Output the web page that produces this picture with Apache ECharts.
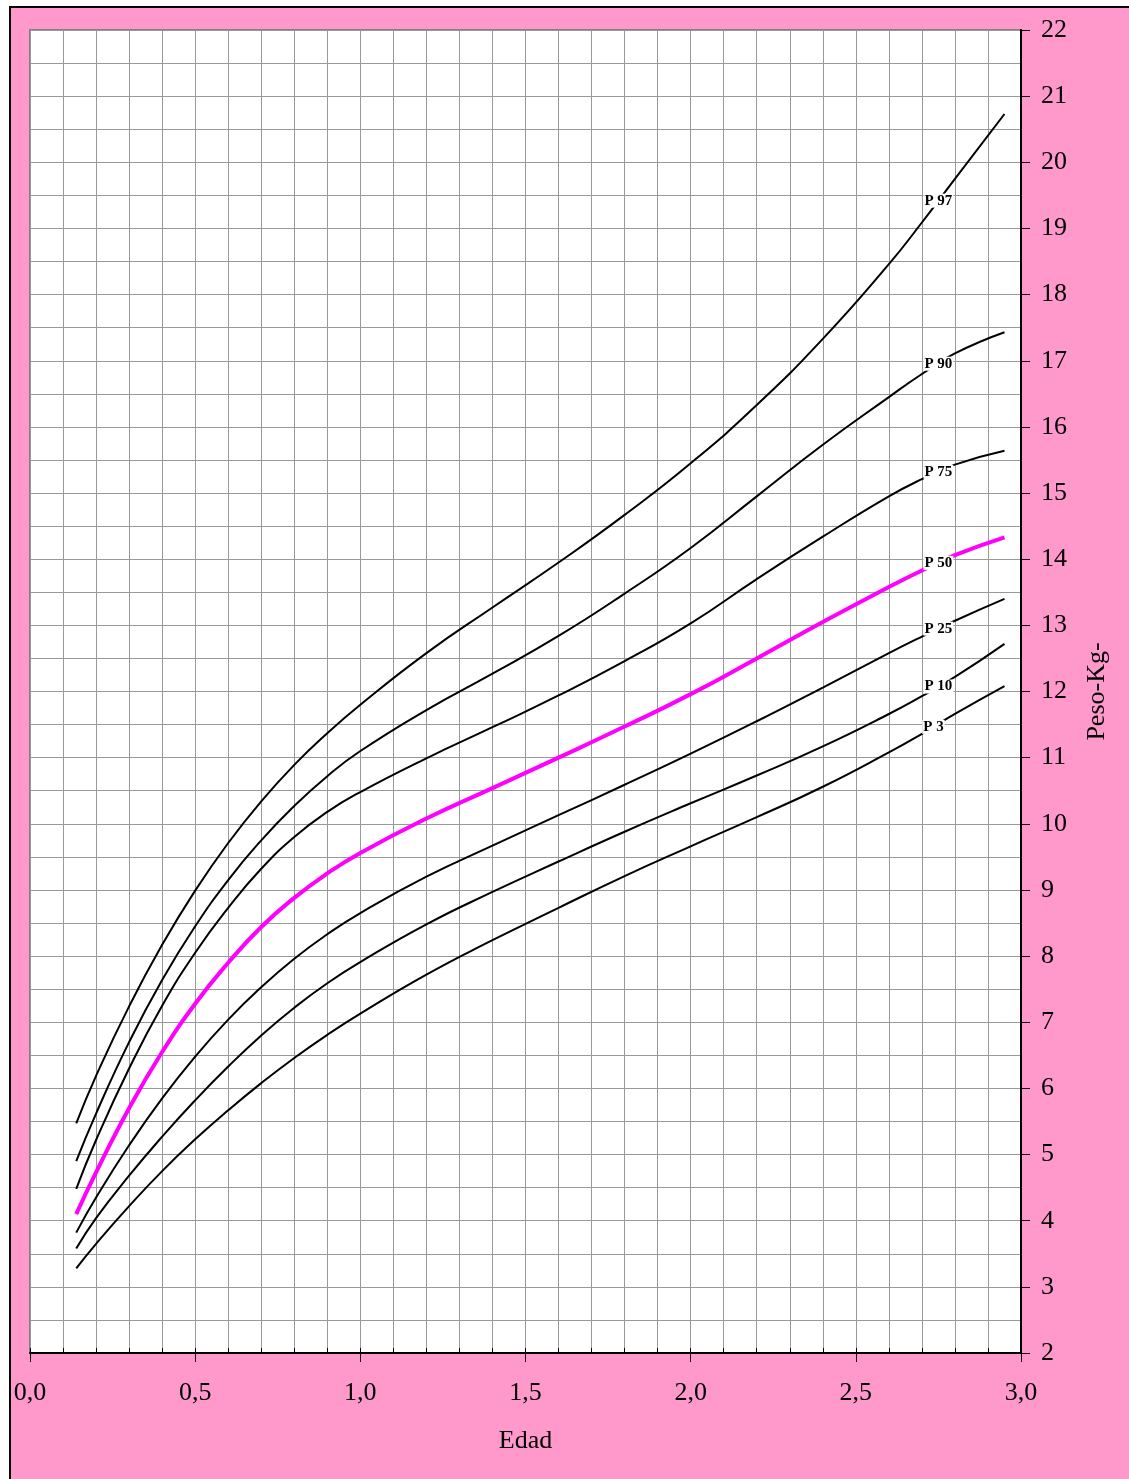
<!DOCTYPE html>
<html><head><meta charset="utf-8">
<script src="https://cdn.jsdelivr.net/npm/echarts@6/dist/echarts.min.js"></script>
<style>
html,body{margin:0;padding:0;background:#fff;overflow:hidden;width:1129px;height:1479px;}
#frame{position:absolute;left:9px;top:6px;width:1200px;height:1600px;background:#FF99CC;border-left:2px solid #000;border-top:2px solid #000;}
#chart{position:absolute;left:0;top:0;width:1129px;height:1479px;}
</style></head><body>
<div id="frame"></div><div id="chart"></div>
<script>
const ages = [0.14, 0.2, 0.3, 0.4, 0.5, 0.6, 0.7, 0.8, 0.9, 1.0, 1.2, 1.4, 1.6, 1.8, 2.0, 2.2, 2.4, 2.6, 2.7, 2.8, 2.95];
const p97 = [5.47, 6.19, 7.24, 8.17, 8.99, 9.71, 10.34, 10.89, 11.37, 11.8, 12.58, 13.27, 13.95, 14.67, 15.45, 16.33, 17.33, 18.46, 19.09, 19.75, 20.73];
const p90 = [4.9, 5.62, 6.7, 7.64, 8.45, 9.15, 9.75, 10.27, 10.72, 11.1, 11.72, 12.27, 12.84, 13.48, 14.17, 14.95, 15.73, 16.45, 16.8, 17.11, 17.43];
const p75 = [4.48, 5.22, 6.3, 7.25, 8.05, 8.73, 9.32, 9.8, 10.18, 10.48, 10.99, 11.46, 11.94, 12.46, 13.03, 13.7, 14.34, 14.95, 15.21, 15.43, 15.64];
const p50 = [4.1, 4.73, 5.7, 6.55, 7.28, 7.9, 8.44, 8.88, 9.25, 9.56, 10.08, 10.54, 11.0, 11.47, 11.96, 12.5, 13.05, 13.58, 13.83, 14.06, 14.33];
const p25 = [3.82, 4.35, 5.14, 5.85, 6.48, 7.04, 7.53, 7.96, 8.33, 8.65, 9.2, 9.67, 10.13, 10.59, 11.06, 11.55, 12.06, 12.58, 12.83, 13.07, 13.4];
const p10 = [3.58, 4.04, 4.68, 5.27, 5.82, 6.33, 6.8, 7.22, 7.59, 7.91, 8.48, 8.97, 9.43, 9.88, 10.31, 10.73, 11.17, 11.66, 11.93, 12.22, 12.72];
const p3  = [3.28, 3.65, 4.22, 4.75, 5.23, 5.67, 6.08, 6.46, 6.81, 7.13, 7.72, 8.24, 8.73, 9.21, 9.66, 10.1, 10.56, 11.08, 11.36, 11.66, 12.08];
const seriesNames = ['P 97', 'P 90', 'P 75', 'P 50', 'P 25', 'P 10', 'P 3'];
const seriesValues = [p97, p90, p75, p50, p25, p10, p3];
const labelAges = [2.75, 2.75, 2.75, 2.75, 2.75, 2.75, 2.735];

const FONT = "'Liberation Serif', 'Times New Roman', serif";

function interp(xs, ys, x) {
  for (let i = 0; i < xs.length - 1; i++) {
    if (x >= xs[i] && x <= xs[i + 1]) {
      const t = (x - xs[i]) / (xs[i + 1] - xs[i]);
      return ys[i] + t * (ys[i + 1] - ys[i]);
    }
  }
  return ys[ys.length - 1];
}

const series = seriesNames.map((name, k) => {
  const isMedian = name === 'P 50';
  return {
    name: name,
    type: 'line',
    xAxisIndex: 0,
    yAxisIndex: 0,
    smooth: 0.5,
    symbol: 'none',
    silent: true,
    z: isMedian ? 4 : 3,
    lineStyle: { color: isMedian ? '#FF00FF' : '#000000', width: isMedian ? 4 : 2 },
    data: ages.map((a, i) => [a, seriesValues[k][i]]),
    markPoint: {
      symbol: 'rect',
      symbolSize: 1,
      silent: true,
      itemStyle: { color: 'rgba(0,0,0,0)' },
      label: {
        show: true,
        position: 'inside',
        formatter: name,
        fontFamily: FONT,
        fontWeight: 'bold',
        fontSize: 15,
        color: '#000',
        backgroundColor: '#ffffff',
        padding: [0, 1, 0, 1],
        lineHeight: 14
      },
      data: [{ coord: [labelAges[k], interp(ages, seriesValues[k], labelAges[k])] }]
    }
  };
});

const chart = echarts.init(document.getElementById('chart'), null, { renderer: 'canvas' });
chart.setOption({
  animation: false,
  backgroundColor: 'transparent',
  grid: {
    left: 30, right: 108, top: 30, bottom: 126,
    show: true, backgroundColor: '#ffffff', borderColor: '#808080', borderWidth: 2
  },
  xAxis: [
    {
      type: 'value', min: 0, max: 3, interval: 0.5, position: 'bottom',
      axisLine: { show: true, onZero: false, lineStyle: { color: '#000', width: 2 } },
      axisTick: { show: true, length: 9, lineStyle: { color: '#000', width: 1 } },
      axisLabel: {
        margin: 27, fontSize: 26, fontFamily: FONT, color: '#000',
        formatter: v => v.toFixed(1).replace('.', ',')
      },
      splitLine: { show: false },
      name: 'Edad', nameLocation: 'middle', nameGap: 75,
      nameTextStyle: { fontSize: 26, fontFamily: FONT, color: '#000' }
    },
    {
      type: 'value', min: 0, max: 3, interval: 0.1, position: 'bottom',
      axisLine: { show: false, onZero: false },
      axisTick: { show: true, inside: true, length: 5, lineStyle: { color: '#000', width: 1 } },
      axisLabel: { show: false },
      splitLine: { show: true, lineStyle: { color: '#999999', width: 1 } }
    }
  ],
  yAxis: [
    {
      type: 'value', min: 2, max: 22, interval: 1, position: 'right',
      axisLine: { show: true, onZero: false, lineStyle: { color: '#000', width: 2 } },
      axisTick: { show: true, length: 9, lineStyle: { color: '#000', width: 1 } },
      axisLabel: { margin: 20, fontSize: 26, fontFamily: FONT, color: '#000' },
      splitLine: { show: false },
      name: 'Peso-Kg-', nameLocation: 'middle', nameRotate: 90, nameGap: 63,
      nameTextStyle: { fontSize: 26, fontFamily: FONT, color: '#000' }
    },
    {
      type: 'value', min: 2, max: 22, interval: 0.5, position: 'right',
      axisLine: { show: false, onZero: false },
      axisTick: { show: false },
      axisLabel: { show: false },
      splitLine: { show: true, lineStyle: { color: '#999999', width: 1 } }
    }
  ],
  series: series
});
</script>
</body></html>
